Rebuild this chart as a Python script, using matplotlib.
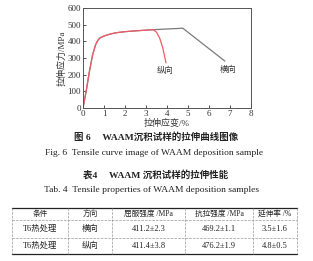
import matplotlib.pyplot as plt
from matplotlib.lines import Line2D

plt.rcParams['font.family'] = ['Liberation Serif', 'Noto Sans CJK SC']

# 拉伸曲线数据 (应变 %, 应力 MPa)
zong_x = [0, 0.15, 0.3, 0.45, 0.6, 0.7, 0.8, 1.0, 1.3, 1.6, 2.0, 2.5, 3.0, 3.35, 3.5, 3.65, 3.8, 3.95]
zong_y = [0, 100, 215, 315, 380, 405, 420, 432, 444, 452, 458, 463, 467, 470, 455, 420, 360, 272]
heng_x = [0, 0.15, 0.3, 0.45, 0.6, 0.7, 0.8, 1.0, 1.3, 1.6, 2.0, 2.5, 3.0, 3.5, 4.0, 4.5, 4.75, 6.75]
heng_y = [0, 100, 215, 315, 380, 405, 420, 432, 444, 452, 458, 463, 467, 471, 474, 477, 479, 282]

# 表格数据
col_names = ['条件', '方向', '屈服强度 /MPa', '抗拉强度 /MPa', '延伸率 /%']
row1 = ['T6热处理', '横向', '411.2±2.3', '469.2±1.1', '3.5±1.6']
row2 = ['T6热处理', '纵向', '411.4±3.8', '476.2±1.9', '4.8±0.5']

W, H = 313, 261
fig = plt.figure(figsize=(W / 100, H / 100), dpi=100)

ax = fig.add_axes([83 / W, 1 - 108 / H, 168 / W, 100 / H])
ax.plot(heng_x, heng_y, color='#7a7a7a', lw=0.9)
ax.plot(zong_x, zong_y, color='#f05a68', lw=0.9)
ax.set_xlim(0, 8)
ax.set_ylim(0, 600)
ax.set_xticks(range(0, 9))
ax.set_yticks(range(0, 601, 100))
ax.tick_params(direction='in', length=2, width=0.6, labelsize=6.5, pad=1.5, colors='#333333')
for s in ax.spines.values():
    s.set_color('#555555')
    s.set_linewidth(0.7)
ax.set_xlabel('拉伸应变/%', fontsize=6.5, labelpad=0.5, color='#333333')
ax.set_ylabel('拉伸应力/MPa', fontsize=6.5, labelpad=1, color='#333333')
ax.text(3.9, 222, '纵向', fontsize=6, ha='center', va='center', color='#333333')
ax.text(6.9, 228, '横向', fontsize=6, ha='center', va='center', color='#333333')

# 图注
def ftext(x, y, s, **kw):
    fig.text(x / W, 1 - y / H, s, ha='center', va='center', color='#222222', **kw)

ftext(156, 137, '图 6     WAAM沉积试样的拉伸曲线图像', fontsize=6.8, fontweight='bold')
ftext(154, 153, 'Fig. 6  Tensile curve image of WAAM deposition sample', fontsize=6.8)
ftext(156, 175, '表4     WAAM 沉积试样的拉伸性能', fontsize=6.8, fontweight='bold')
ftext(152, 190, 'Tab. 4  Tensile properties of WAAM deposition samples', fontsize=6.8)

# 表格
x_edges = [12, 68, 112, 185, 253, 297]
y_edges = [208, 220, 238, 254]

def hline(y, **kw):
    fig.add_artist(Line2D([x_edges[0] / W, x_edges[-1] / W], [1 - y / H, 1 - y / H], **kw))

hline(y_edges[0], color='#222222', lw=0.9)
hline(y_edges[1], color='#999999', lw=0.5, ls='--')
hline(y_edges[2], color='#999999', lw=0.5, ls='--')
hline(y_edges[3], color='#222222', lw=0.9)
for xe in x_edges:
    fig.add_artist(Line2D([xe / W, xe / W], [1 - y_edges[0] / H, 1 - y_edges[3] / H],
                          color='#999999', lw=0.5, ls='--'))

for r, row in enumerate([col_names, row1, row2]):
    yc = (y_edges[r] + y_edges[r + 1]) / 2
    for c, val in enumerate(row):
        xc = (x_edges[c] + x_edges[c + 1]) / 2
        ftext(xc, yc, val, fontsize=5.5 if r == 0 else 6)

fig.savefig('out.png', dpi=100)
